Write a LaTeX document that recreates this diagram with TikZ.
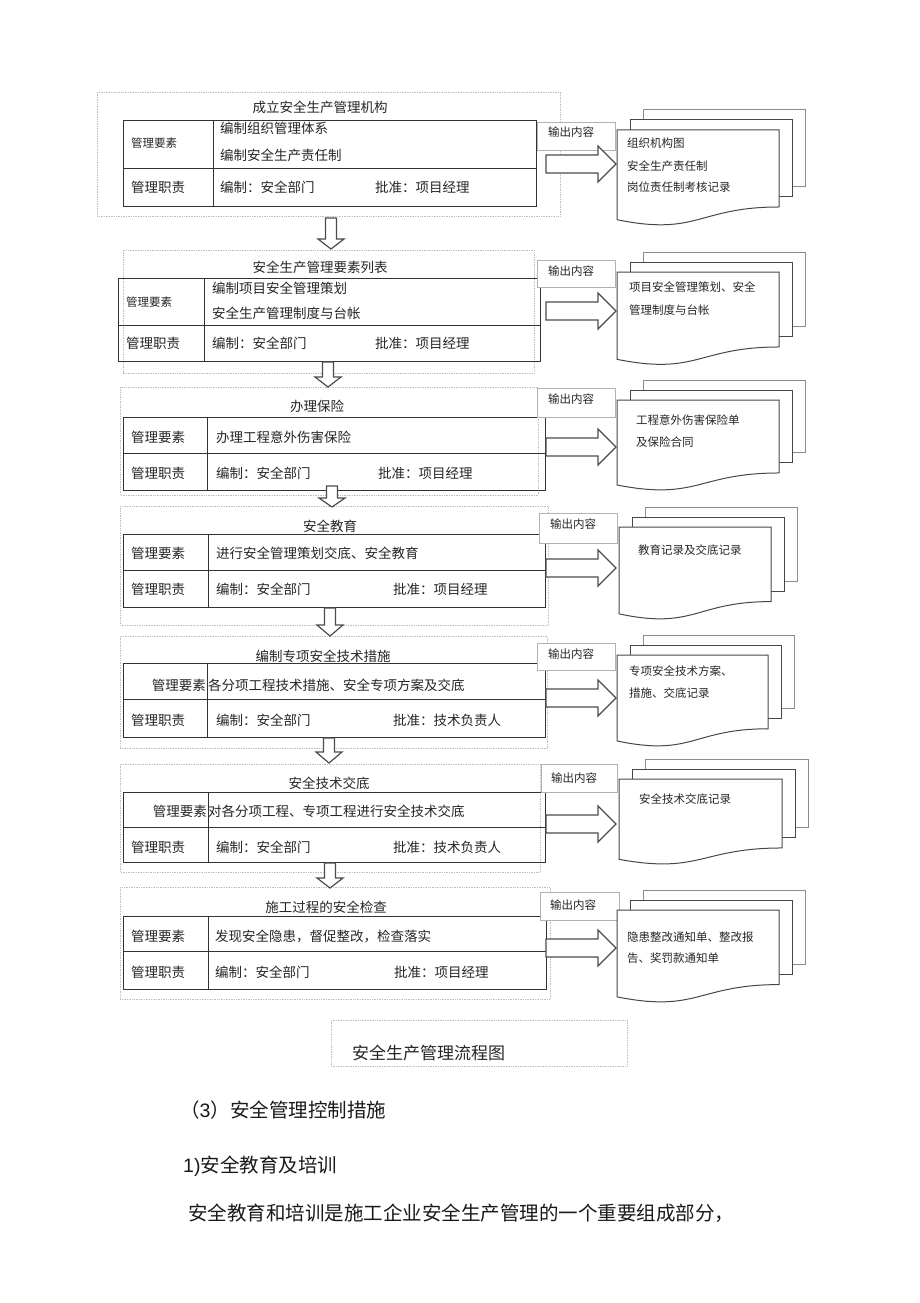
\documentclass[tikz,border=0pt]{standalone}
\usepackage{fontspec}
\setmainfont{Noto Sans CJK SC}
\newfontfamily\arialf{Liberation Sans}
\newcommand\mktable[6]{%
  \draw[tbl] (#1,#2) rectangle (#3,#4);
  \draw[tbl] (#1,#5) -- (#3,#5);
  \draw[tbl] (#6,#2) -- (#6,#4);}
\newcommand\mkdocs[4]{%
  \draw[docback,draw=black!45] ({#1+26},{#2-20}) rectangle ({#1+#3+26},{#2+0.802*#4-20});
  \draw[docback] ({#1+13},{#2-10}) rectangle ({#1+#3+13},{#2+0.802*#4-10});
  \draw[docback] (#1,#2) -- ({#1+#3},#2) -- ({#1+#3},{#2+0.802*#4})
     .. controls ({#1+#3/2},{#2+0.802*#4}) and ({#1+#3/2},{#2+1.108*#4}) .. (#1,{#2+0.934*#4}) -- cycle;}
\newcommand\rarr[1]{%
  \draw[blk] (546,{#1-9}) -- (598,{#1-9}) -- (598,{#1-18}) -- (616,#1) -- (598,{#1+18}) -- (598,{#1+9}) -- (546,{#1+9}) -- cycle;}
\newcommand\darr[4]{%
  \draw[blk] ({#1-5.5},#2) -- ({#1+5.5},#2) -- ({#1+5.5},#3) -- ({#1+13},#3) -- (#1,#4) -- ({#1-13},#3) -- ({#1-5.5},#3) -- cycle;}
\begin{document}
\begin{tikzpicture}[x=1pt,y=-1pt,
  frame/.style={draw=black!25, densely dotted, line width=0.7pt},
  tbl/.style={draw=black!80, line width=0.95pt},
  outbox/.style={draw=black!30, line width=0.7pt, fill=white},
  blk/.style={draw=black!70, line width=1.2pt, fill=white, line join=miter},
  docback/.style={draw=black!72, line width=1pt, fill=white},
  t14/.style={font=\fontsize{13.5}{15}\selectfont, inner sep=0pt, text=black!85},
  t12/.style={font=\fontsize{11.5}{13}\selectfont, inner sep=0pt, text=black!85},
  big/.style={font=\fontsize{19.5}{22}\selectfont, inner sep=0pt, text=black!90}]
\useasboundingbox (0,0) rectangle (920,1303);
\fill[white] (0,0) rectangle (920,1303);

% ---------- frames ----------
\draw[frame] (97,92) rectangle (560,216);
\draw[frame] (123,250) rectangle (534,373);
\draw[frame] (120,387) rectangle (538,495);
\draw[frame] (120,506) rectangle (548,625);
\draw[frame] (120,636) rectangle (547,748);
\draw[frame] (120,764) rectangle (540,872);
\draw[frame] (120,887) rectangle (550,999);

% ---------- tables ----------
\mktable{123}{120}{536}{206}{168}{213}
\mktable{118}{278}{540}{361}{325}{204}
\mktable{123}{417}{545}{490}{453}{207}
\mktable{123}{534}{545}{607}{570}{208}
\mktable{123}{663}{545}{737}{699}{207}
\mktable{123}{792}{545}{862}{827}{208}
\mktable{123}{916}{546}{989}{951}{208}

% ---------- output boxes ----------
\draw[outbox] (537,122) rectangle (615,150);
\draw[outbox] (537,260) rectangle (615,287);
\draw[outbox] (537,388) rectangle (615,417);
\draw[outbox] (539,513) rectangle (617,543);
\draw[outbox] (537,643) rectangle (615,670);
\draw[outbox] (541,764) rectangle (617,792);
\draw[outbox] (540,892) rectangle (619,920);
\node[t12,anchor=west] (o1) at (548,132) {输出内容};
\node[t12,anchor=west] (o2) at (548,271) {输出内容};
\node[t12,anchor=west] (o3) at (548,399) {输出内容};
\node[t12,anchor=west] (o4) at (550,524) {输出内容};
\node[t12,anchor=west] (o5) at (548,654) {输出内容};
\node[t12,anchor=west] (o6) at (551,778) {输出内容};
\node[t12,anchor=west] (o7) at (550,905) {输出内容};

% ---------- document stacks ----------
\mkdocs{617}{130}{162}{96}
\mkdocs{617}{272}{162}{93.5}
\mkdocs{617}{400}{162}{91}
\mkdocs{619}{527}{152}{93}
\mkdocs{617}{655}{151}{92}
\mkdocs{619}{779}{163}{86}
\mkdocs{617}{910}{162}{93}

% ---------- right arrows ----------
\rarr{164}
\rarr{311}
\rarr{447}
\rarr{568}
\rarr{698}
\rarr{824}
\rarr{948}

% ---------- down arrows ----------
\darr{331}{218}{239}{249}
\darr{328}{362}{377}{387}
\darr{332}{486}{498}{507}
\darr{330}{608}{625}{636}
\darr{329}{738}{752}{763}
\darr{330}{863}{878}{888}

% ---------- section 1 ----------
\node[t14] (s1t) at (320,107) {成立安全生产管理机构};
\node[t12,anchor=west] (s1a) at (131,143) {管理要素};
\node[t14,anchor=west] (s1b) at (220,128) {编制组织管理体系};
\node[t14,anchor=west] (s1c) at (220,155) {编制安全生产责任制};
\node[t14,anchor=west] (s1d) at (131,187) {管理职责};
\node[t14,anchor=west] (s1e) at (220,187) {编制：安全部门};
\node[t14,anchor=west] (s1f) at (375,187) {批准：项目经理};
\node[t12,anchor=west] (d1a) at (627,143) {组织机构图};
\node[t12,anchor=west] (d1b) at (627,166) {安全生产责任制};
\node[t12,anchor=west] (d1c) at (627,187) {岗位责任制考核记录};

% ---------- section 2 ----------
\node[t14] (s2t) at (320,267) {安全生产管理要素列表};
\node[t12,anchor=west] (s2a) at (126,302) {管理要素};
\node[t14,anchor=west] (s2b) at (212,288) {编制项目安全管理策划};
\node[t14,anchor=west] (s2c) at (212,313) {安全生产管理制度与台帐};
\node[t14,anchor=west] (s2d) at (126,343) {管理职责};
\node[t14,anchor=west] (s2e) at (212,343) {编制：安全部门};
\node[t14,anchor=west] (s2f) at (375,343) {批准：项目经理};
\node[t12,anchor=west] (d2a) at (629,287) {项目安全管理策划、安全};
\node[t12,anchor=west] (d2b) at (629,310) {管理制度与台帐};

% ---------- section 3 ----------
\node[t14] (s3t) at (317,406) {办理保险};
\node[t14,anchor=west] (s3a) at (131,437) {管理要素};
\node[t14,anchor=west] (s3b) at (216,437) {办理工程意外伤害保险};
\node[t14,anchor=west] (s3d) at (131,473) {管理职责};
\node[t14,anchor=west] (s3e) at (216,473) {编制：安全部门};
\node[t14,anchor=west] (s3f) at (378,473) {批准：项目经理};
\node[t12,anchor=west] (d3a) at (636,420) {工程意外伤害保险单};
\node[t12,anchor=west] (d3b) at (636,442) {及保险合同};

% ---------- section 4 ----------
\node[t14] (s4t) at (330,526) {安全教育};
\node[t14,anchor=west] (s4a) at (131,553) {管理要素};
\node[t14,anchor=west] (s4b) at (216,553) {进行安全管理策划交底、安全教育};
\node[t14,anchor=west] (s4d) at (131,589) {管理职责};
\node[t14,anchor=west] (s4e) at (216,589) {编制：安全部门};
\node[t14,anchor=west] (s4f) at (393,589) {批准：项目经理};
\node[t12,anchor=west] (d4a) at (638,550) {教育记录及交底记录};

% ---------- section 5 ----------
\node[t14] (s5t) at (323,656) {编制专项安全技术措施};
\node[t14,anchor=east] (s5a) at (206,685) {管理要素};
\node[t14,anchor=west] (s5b) at (208,685) {各分项工程技术措施、安全专项方案及交底};
\node[t14,anchor=west] (s5d) at (131,720) {管理职责};
\node[t14,anchor=west] (s5e) at (216,720) {编制：安全部门};
\node[t14,anchor=west] (s5f) at (393,720) {批准：技术负责人};
\node[t12,anchor=west] (d5a) at (629,671) {专项安全技术方案、};
\node[t12,anchor=west] (d5b) at (629,693) {措施、交底记录};

% ---------- section 6 ----------
\node[t14] (s6t) at (329,783) {安全技术交底};
\node[t14,anchor=east] (s6a) at (207,811) {管理要素};
\node[t14,anchor=west] (s6b) at (208,811) {对各分项工程、专项工程进行安全技术交底};
\node[t14,anchor=west] (s6d) at (131,847) {管理职责};
\node[t14,anchor=west] (s6e) at (216,847) {编制：安全部门};
\node[t14,anchor=west] (s6f) at (393,847) {批准：技术负责人};
\node[t12,anchor=west] (d6a) at (639,799) {安全技术交底记录};

% ---------- section 7 ----------
\node[t14] (s7t) at (326,907) {施工过程的安全检查};
\node[t14,anchor=west] (s7a) at (131,936) {管理要素};
\node[t14,anchor=west] (s7b) at (215,936) {发现安全隐患，督促整改，检查落实};
\node[t14,anchor=west] (s7d) at (131,972) {管理职责};
\node[t14,anchor=west] (s7e) at (215,972) {编制：安全部门};
\node[t14,anchor=west] (s7f) at (394,972) {批准：项目经理};
\node[t12,anchor=west] (d7a) at (627,937) {隐患整改通知单、整改报};
\node[t12,anchor=west] (d7b) at (627,958) {告、奖罚款通知单};

% ---------- caption ----------
\draw[frame] (331,1020) rectangle (627,1066);
\node[t14,font=\fontsize{17}{19}\selectfont,anchor=west] (cap) at (352,1053) {安全生产管理流程图};

% ---------- body text ----------
\node[big,anchor=west] (h3) at (180,1110) {（{\arialf 3}）安全管理控制措施};
\node[big,anchor=west] (h31) at (183,1166) {{\arialf 1)}安全教育及培训};
\node[big,anchor=west] (p1) at (188,1213) {安全教育和培训是施工企业安全生产管理的一个重要组成部分，};
\end{tikzpicture}
\end{document}
